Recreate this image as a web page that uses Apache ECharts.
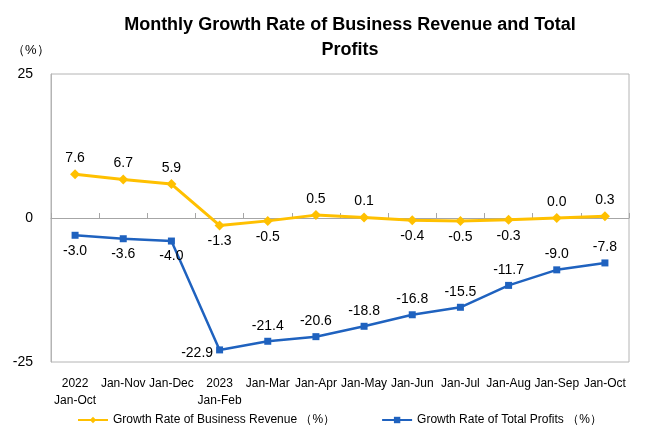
<!DOCTYPE html>
<html>
<head>
    <meta http-equiv="Content-Type" content="text/html; charset=utf-8" />
    <script src="https://cdn.jsdelivr.net/npm/echarts@6/dist/echarts.min.js"></script>
    <style>
        html, body { margin: 0; padding: 0; background: #fff; }
        #chart { width: 660px; height: 440px; }
    </style>
</head>
<body>
<div id="chart"></div>
<script type="text/javascript">
    // categories on the x axis
    var months = ['2022\nJan-Oct', 'Jan-Nov', 'Jan-Dec', '2023\nJan-Feb', 'Jan-Mar', 'Jan-Apr',
        'Jan-May', 'Jan-Jun', 'Jan-Jul', 'Jan-Aug', 'Jan-Sep', 'Jan-Oct'];
    // growth rate of business revenue (%)
    var revenue = [7.6, 6.7, 5.9, -1.3, -0.5, 0.5, 0.1, -0.4, -0.5, -0.3, 0.0, 0.3];
    // growth rate of total profits (%)
    var profits = [-3.0, -3.6, -4.0, -22.9, -21.4, -20.6, -18.8, -16.8, -15.5, -11.7, -9.0, -7.8];
    var yTicks = [-25, 0, 25];

    // where each value label sits (style only)
    var revenuePos = ['top', 'top', 'top', 'bottom', 'bottom', 'top', 'top', 'bottom', 'bottom', 'bottom', 'top', 'top'];
    var profitsPos = ['bottom', 'bottom', 'bottom', 'left', 'top', 'top', 'top', 'top', 'top', 'top', 'top', 'top'];

    var revName = 'Growth Rate of Business Revenue （%）';
    var proName = 'Growth Rate of Total Profits （%）';

    function withLabels(values, pos) {
        return values.map(function (v, i) {
            var item = { value: v, label: { position: pos[i] } };
            if (pos[i] === 'left') {
                item.label.offset = [2, 3];
            }
            return item;
        });
    }

    var chart = echarts.init(document.getElementById('chart'));
    var option = {
        backgroundColor: '#fff',
        textStyle: { fontFamily: 'Liberation Sans, Arial, sans-serif' },
        title: {
            text: 'Monthly Growth Rate of Business Revenue and Total\nProfits',
            left: 345,
            top: 8,
            textAlign: 'center',
            textStyle: { fontSize: 18, fontWeight: 'bold', color: '#000', lineHeight: 25 }
        },
        graphic: [{
            type: 'text',
            left: 12,
            top: 44,
            style: { text: '（%）', fontSize: 13, fill: '#000', fontFamily: 'Liberation Sans, Arial, sans-serif' }
        }],
        legend: {
            bottom: 9,
            left: 72,
            itemWidth: 30,
            itemHeight: 8,
            itemGap: 46,
            textStyle: { fontSize: 12, color: '#000' },
            data: [revName, proName]
        },
        grid: {
            left: 51,
            right: 31,
            top: 74,
            bottom: 78,
            show: true,
            borderColor: '#b4b4b4',
            borderWidth: 1
        },
        xAxis: [{
            type: 'category',
            data: months,
            boundaryGap: true,
            axisLine: { onZero: true, lineStyle: { color: '#a6a6a6', width: 1 } },
            axisTick: { show: true, inside: true, interval: 0, length: 5, lineStyle: { color: '#a6a6a6' } },
            axisLabel: { show: false }
        }, {
            type: 'category',
            data: months,
            position: 'bottom',
            boundaryGap: true,
            axisLine: { show: false, onZero: false },
            axisTick: { show: false },
            axisLabel: { show: true, interval: 0, margin: 13, fontSize: 12, color: '#000', lineHeight: 17 }
        }],
        yAxis: {
            type: 'value',
            min: yTicks[0],
            max: yTicks[yTicks.length - 1],
            interval: 25,
            axisLine: { show: true, lineStyle: { color: '#b4b4b4' } },
            axisTick: { show: false },
            splitLine: { show: false },
            axisLabel: { fontSize: 14, color: '#000', margin: 18 }
        },
        series: [{
            name: revName,
            type: 'line',
            data: withLabels(revenue, revenuePos),
            color: '#FFC000',
            symbol: 'diamond',
            symbolSize: 10,
            lineStyle: { width: 3 },
            label: { show: true, fontSize: 14, color: '#000', distance: 4, formatter: function (p) { return p.value.toFixed(1); } }
        }, {
            name: proName,
            type: 'line',
            data: withLabels(profits, profitsPos),
            color: '#1F62BF',
            symbol: 'rect',
            symbolSize: 7,
            lineStyle: { width: 2.5 },
            label: { show: true, fontSize: 14, color: '#000', distance: 5, formatter: function (p) { return p.value.toFixed(1); } }
        }]
    };
    chart.setOption(option);
</script>
</body>
</html>
